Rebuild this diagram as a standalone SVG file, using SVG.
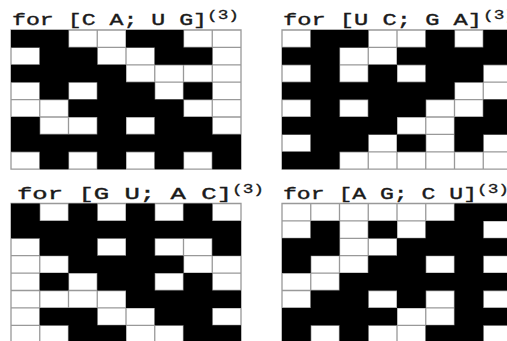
<svg xmlns="http://www.w3.org/2000/svg" xmlns:xlink="http://www.w3.org/1999/xlink" width="507" height="341" viewBox="0 0 507 341">
<style>
.lbl{font-family:"Liberation Mono","Courier New",monospace;font-size:17px;fill:#1a1a1a;stroke:#1a1a1a;stroke-width:0.4;}
.sup{font-family:"Liberation Mono","Courier New",monospace;font-size:13px;fill:#1a1a1a;stroke:#1a1a1a;stroke-width:0.3;}
.bk{fill:#000;}
.gl{fill:none;stroke:#999;stroke-width:1.3;}
.cellbg{fill:#fff;}
</style>
<defs>
<path id="grid" vector-effect="non-scaling-stroke" d="M0 0H8V8H0Z M1 0V8M2 0V8M3 0V8M4 0V8M5 0V8M6 0V8M7 0V8M0 1H8M0 2H8M0 3H8M0 4H8M0 5H8M0 6H8M0 7H8"/>
</defs>
<rect width="507" height="341" fill="#fff"/>

<g id="panel-CA-UG">
<text class="lbl" x="12" y="25" textLength="195" lengthAdjust="spacingAndGlyphs">for [C A; U G]</text>
<text class="sup" x="207" y="19" textLength="32" lengthAdjust="spacingAndGlyphs">(3)</text>
<g transform="translate(11,30) scale(28.75,17.4)">
<rect class="cellbg" width="8" height="8"/>
<use xlink:href="#grid" class="gl"/>
<path class="bk" d="M0 0h2v1h-2z M4 0h2v1h-2z M1 1h2v1h-2z M5 1h2v1h-2z M0 2h4v1h-4z M1 3h1v1h-1z M3 3h2v1h-2z M6 3h1v1h-1z M2 4h4v1h-4z M0 5h1v1h-1z M3 5h1v1h-1z M5 5h2v1h-2z M0 6h8v1h-8z M1 7h1v1h-1z M3 7h1v1h-1z M5 7h1v1h-1z M7 7h1v1h-1z"/>
</g>
</g>

<g id="panel-UC-GA">
<text class="lbl" x="283" y="25" textLength="199" lengthAdjust="spacingAndGlyphs">for [U C; G A]</text>
<text class="sup" x="483" y="19" textLength="32" lengthAdjust="spacingAndGlyphs">(3)</text>
<g transform="translate(282,30) scale(28.75,17.4)">
<rect class="cellbg" width="8" height="8"/>
<use xlink:href="#grid" class="gl"/>
<path class="bk" d="M1 0h2v1h-2z M5 0h1v1h-1z M7 0h1v1h-1z M0 1h2v1h-2z M4 1h4v1h-4z M1 2h1v1h-1z M3 2h1v1h-1z M5 2h2v1h-2z M0 3h6v1h-6z M1 4h1v1h-1z M3 4h2v1h-2z M7 4h1v1h-1z M0 5h4v1h-4z M6 5h2v1h-2z M1 6h2v1h-2z M4 6h1v1h-1z M6 6h1v1h-1z M0 7h2v1h-2z"/>
</g>
</g>

<g id="panel-GU-AC">
<text class="lbl" x="17" y="199" textLength="215" lengthAdjust="spacingAndGlyphs">for [G U; A C]</text>
<text class="sup" x="232" y="193" textLength="32" lengthAdjust="spacingAndGlyphs">(3)</text>
<g transform="translate(11,203.5) scale(28.75,17.4)">
<rect class="cellbg" width="8" height="8"/>
<use xlink:href="#grid" class="gl"/>
<path class="bk" d="M0 0h1v1h-1z M2 0h1v1h-1z M4 0h1v1h-1z M6 0h1v1h-1z M0 1h8v1h-8z M1 2h2v1h-2z M4 2h1v1h-1z M7 2h1v1h-1z M2 3h4v1h-4z M1 4h1v1h-1z M3 4h2v1h-2z M6 4h1v1h-1z M4 5h4v1h-4z M1 6h2v1h-2z M5 6h2v1h-2z M2 7h2v1h-2z M6 7h2v1h-2z"/>
</g>
</g>

<g id="panel-AG-CU">
<text class="lbl" x="283" y="199" textLength="194" lengthAdjust="spacingAndGlyphs">for [A G; C U]</text>
<text class="sup" x="477" y="193" textLength="32" lengthAdjust="spacingAndGlyphs">(3)</text>
<g transform="translate(282,203.5) scale(28.75,17.4)">
<rect class="cellbg" width="8" height="8"/>
<use xlink:href="#grid" class="gl"/>
<path class="bk" d="M6 0h2v1h-2z M1 1h1v1h-1z M3 1h1v1h-1z M5 1h2v1h-2z M0 2h2v1h-2z M4 2h4v1h-4z M0 3h1v1h-1z M3 3h2v1h-2z M6 3h1v1h-1z M2 4h6v1h-6z M1 5h2v1h-2z M4 5h1v1h-1z M6 5h1v1h-1z M0 6h4v1h-4z M6 6h2v1h-2z M0 7h1v1h-1z M2 7h1v1h-1z M5 7h2v1h-2z"/>
</g>
</g>
</svg>
